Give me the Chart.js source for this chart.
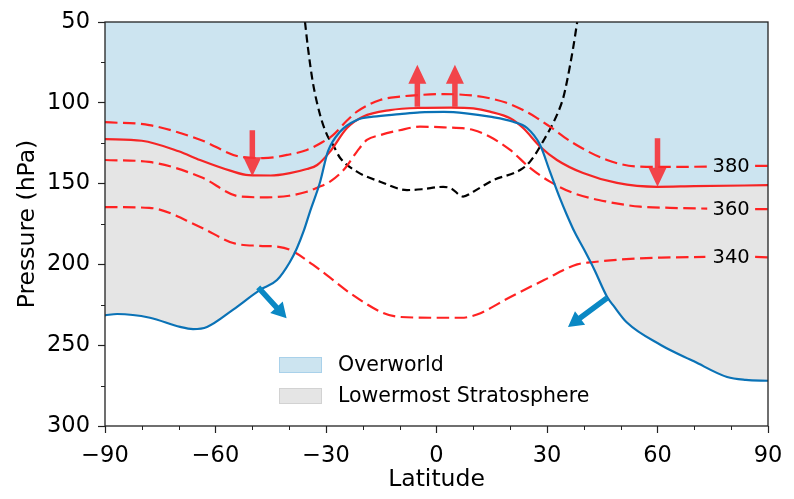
<!DOCTYPE html>
<html>
<head>
<meta charset="utf-8">
<script src="https://cdn.jsdelivr.net/npm/chart.js@4.4.1/dist/chart.umd.min.js"></script>
<style>
  html, body { margin: 0; padding: 0; background: #fff; }
  #chart { display: block; }
</style>
</head>
<body>
<canvas id="chart" width="794" height="499"></canvas>
<script>
// -- data: [latitude, pressure hPa] --------------------------------------
const xMajor = [-90, -60, -30, 0, 30, 60, 90];
const xMinor = [-80, -70, -50, -40, -20, -10, 10, 20, 40, 50, 70, 80];
const yMajor = [50, 100, 150, 200, 250, 300];
const yMinor = [75, 125, 175, 225, 275];

const tropopause = [
    [-90, 231.5], [-86.7, 230.7], [-77.8, 233], [-69.6, 238.7], [-66.1, 240], [-62.3, 238.7],
    [-55.2, 228], [-47.9, 215.8], [-43.3, 209.7], [-39.8, 198.5], [-37.9, 190], [-36, 179],
    [-34.3, 167], [-31.6, 149], [-29.5, 130.2], [-26.2, 117.9], [-21.6, 110.6], [-17.2, 108.6],
    [-10, 107], [-4.5, 105.9], [2, 105.6], [8, 106.5], [14.5, 108.6], [20.8, 111.7], [24.6, 115.6],
    [28.1, 126], [30.8, 142.6], [33.5, 159], [35.4, 169.4], [37.5, 180], [40.1, 191], [42.8, 203],
    [46.3, 220], [48.2, 226], [51.7, 236], [61, 250], [69.9, 260], [78.9, 269.7], [84, 271.5], [90, 272],
];

const overworldTop = [
    [-90, 122.5], [-80, 123.5], [-70, 130], [-64.2, 135.4], [-56, 142], [-51, 144.8], [-45, 145],
    [-39.8, 143.5], [-35.2, 141], [-32.4, 138.5], [-28.9, 130.2], [-24.3, 115.6], [-20, 108.6],
    [-12.6, 104.5], [-4.5, 103.2], [4, 103], [10, 103.5], [14.5, 105.5], [20, 109.6], [23.5, 115.6],
    [28.1, 127], [32.7, 135.4], [39.8, 143.5], [49, 149.6], [59.9, 152], [70, 151.6], [90, 151],
];

// isentropes, with a gap where the inline label sits
const theta380 = [
    [-90, 112], [-78, 113.8], [-64, 123], [-53.3, 133.4], [-47, 134.2], [-40, 132], [-35.2, 129.2],
    [-31.5, 125], [-28.1, 120], [-24.3, 111], [-21.6, 105.5], [-15.3, 98.3], [-10, 96.2], [-5, 95.2],
    [2, 94.6], [11, 95.8], [14.5, 97.2], [19, 100], [23.5, 104.5], [27, 109], [30.8, 114.8],
    [37.1, 124.9], [46.3, 135.4], [54.4, 139.4], [63.4, 139.7], [73.5, 139.5], [80, null], [86.5, 139], [90, 139],
];
const theta360 = [
    [-90, 135.4], [-78, 136.6], [-64, 145.9], [-53.3, 158], [-46, 158.5], [-40, 157.5], [-35.2, 155],
    [-32.4, 152.5], [-28.9, 148.8], [-25, 141], [-21.6, 130.2], [-18.9, 123], [-15.3, 120], [-10, 117],
    [-4.5, 114.8], [2, 115.2], [10, 116.8], [14.5, 121], [20, 129.2], [25.4, 140.3], [30.8, 148.8],
    [37.1, 155.8], [46.3, 161.2], [55.3, 164.3], [63.4, 165], [73.5, 165.5], [80, null], [86.5, 165.8], [90, 165.8],
];
const theta340 = [
    [-90, 164.5], [-78, 165], [-64.2, 176.8], [-55.2, 186.8], [-48, 188.5], [-43.3, 189], [-39.8, 191],
    [-31.6, 203.5], [-23.5, 217.7], [-14.5, 230], [-10, 232.5], [0, 233], [6.7, 233], [11, 231],
    [20.2, 220], [29.2, 209.7], [38.2, 200], [42.8, 198.5], [50, 197], [61, 195.8], [73, 195.4],
    [80, null], [86.5, 195.4], [90, 195.6],
];
const pvContour = [
    [-35.7, 50], [-34.9, 66], [-33.6, 87], [-31.6, 107.5], [-29.7, 120], [-28.1, 126], [-26.2, 134],
    [-21.6, 142.6], [-15.3, 148.8], [-8, 154], [-4, 153.5], [1.8, 152], [4, 153], [7.2, 158], [10, 155],
    [15.3, 148], [22.7, 141.6], [25.4, 136.4], [28.9, 124], [32.7, 107.5], [34.4, 97], [35.4, 87],
    [37.1, 66], [38.2, 50],
];

const isentropeLabels = ['380', '360', '340'];
const isentropeLabelLat = 80;
const isentropeLabelP = [139.3, 165.7, 195.4];

// arrows: [lat0, p0, lat1, p1]
const redArrows = [[-50, 117, -50, 145.5], [60, 122, 60, 152], [-5.2, 102.5, -5.2, 76.5], [5, 102.5, 5, 76.5]];
const blueArrows = [[-48.4, 214.2, -40.7, 233.4], [46.3, 220.8, 35.7, 238.7]];

const lmsCut = [-29.5, 28.1];

// -------------------------------------------------------------------------
const FONT = '"DejaVu Sans", sans-serif';
const pts = (rows) => rows.map(([x, y]) => ({ x, y }));
const lms = [
    ...tropopause.filter(([x]) => x <= lmsCut[0]),
    [0, null],
    ...tropopause.filter(([x]) => x >= lmsCut[1]),
];
const minus = (v) => (v < 0 ? '\u2212' + Math.abs(v) : String(v));

function line(data, color, width, dash) {
    return {
        data: pts(data), borderColor: color, borderWidth: width, borderDash: dash,
        pointRadius: 0, fill: false, cubicInterpolationMode: 'monotone', order: 1,
    };
}

function arrow(ctx, x0, y0, x1, y1, shaft, headW, headL, color) {
    const len = Math.hypot(x1 - x0, y1 - y0);
    const ux = (x1 - x0) / len, uy = (y1 - y0) / len;
    const nx = -uy, ny = ux;
    const bx = x1 - ux * headL, by = y1 - uy * headL;
    ctx.beginPath();
    ctx.moveTo(x0 + nx * shaft / 2, y0 + ny * shaft / 2);
    ctx.lineTo(bx + nx * shaft / 2, by + ny * shaft / 2);
    ctx.lineTo(bx + nx * headW / 2, by + ny * headW / 2);
    ctx.lineTo(x1, y1);
    ctx.lineTo(bx - nx * headW / 2, by - ny * headW / 2);
    ctx.lineTo(bx - nx * shaft / 2, by - ny * shaft / 2);
    ctx.lineTo(x0 - nx * shaft / 2, y0 - ny * shaft / 2);
    ctx.closePath();
    ctx.fillStyle = color;
    ctx.fill();
}

const decorations = {
    id: 'decorations',
    afterDatasetsDraw(chart) {
        const { ctx, scales: { x, y } } = chart;
        ctx.save();
        redArrows.forEach(([a, b, c, d]) => arrow(ctx, x.getPixelForValue(a), y.getPixelForValue(b),
            x.getPixelForValue(c), y.getPixelForValue(d), 5.5, 18, 19, 'rgba(246,50,55,0.9)'));
        blueArrows.forEach(([a, b, c, d]) => arrow(ctx, x.getPixelForValue(a), y.getPixelForValue(b),
            x.getPixelForValue(c), y.getPixelForValue(d), 5.5, 17, 15, '#0a88c4'));

        ctx.fillStyle = '#000';
        ctx.font = '19.5px ' + FONT;
        ctx.textAlign = 'center';
        ctx.textBaseline = 'middle';
        isentropeLabels.forEach((t, i) =>
            ctx.fillText(t, x.getPixelForValue(isentropeLabelLat), y.getPixelForValue(isentropeLabelP[i]) + 1));
        ctx.restore();
    },
    afterDraw(chart) {
        const { ctx, chartArea: a, scales: { x, y } } = chart;
        ctx.save();
        // minor ticks
        ctx.strokeStyle = '#222';
        ctx.lineWidth = 1;
        ctx.beginPath();
        xMinor.forEach((v) => {
            const px = Math.round(x.getPixelForValue(v)) + 0.5;
            ctx.moveTo(px, a.bottom); ctx.lineTo(px, a.bottom + 4);
        });
        yMinor.forEach((v) => {
            const py = Math.round(y.getPixelForValue(v)) + 0.5;
            ctx.moveTo(a.left, py); ctx.lineTo(a.left - 4, py);
        });
        ctx.stroke();
        // spines
        ctx.lineWidth = 1.3;
        ctx.strokeRect(a.left, a.top, a.right - a.left, a.bottom - a.top);

        // legend
        const lx = a.left + 174, ly = a.top + 335;
        [0, 1].forEach((i, k) => {
            const ds = chart.data.datasets[i];
            const top = ly + k * 31;
            ctx.fillStyle = ds.backgroundColor;
            ctx.fillRect(lx, top, 43, 16);
            ctx.strokeStyle = ds.edgeColor;
            ctx.lineWidth = 1;
            ctx.strokeRect(lx + 0.5, top + 0.5, 42, 15);
            ctx.fillStyle = '#000';
            ctx.font = '20.5px ' + FONT;
            ctx.textAlign = 'left';
            ctx.textBaseline = 'middle';
            ctx.fillText(ds.label, lx + 59, top + 8.5);
        });
        ctx.restore();
    },
};

new Chart(document.getElementById('chart'), {
    type: 'line',
    data: {
        datasets: [
            {
                label: 'Overworld', data: pts(overworldTop), borderWidth: 0, pointRadius: 0,
                cubicInterpolationMode: 'monotone', fill: 'end', backgroundColor: '#cce4f0', edgeColor: '#a9d1ea', order: 10,
            },
            {
                label: 'Lowermost Stratosphere', data: pts(lms), borderWidth: 0, pointRadius: 0,
                cubicInterpolationMode: 'monotone', fill: 0, backgroundColor: '#e5e5e5', edgeColor: '#d2d2d2', order: 9,
            },
            line(tropopause, '#0a72b6', 2.2, []),
            line(overworldTop, '#f52525', 2.2, []),
            line(theta380, '#ff2222', 2.2, [12.5, 5.5]),
            line(theta360, '#ff2222', 2.2, [12.5, 5.5]),
            line(theta340, '#ff2222', 2.2, [12.5, 5.5]),
            line(pvContour, '#000', 2.2, [8, 4.5]),
        ],
    },
    options: {
        responsive: false,
        animation: false,
        events: [],
        layout: { padding: { top: 22, right: 26, left: 0, bottom: 0 } },
        plugins: { legend: { display: false }, tooltip: { enabled: false } },
        scales: {
            x: {
                type: 'linear', min: -90, max: 90,
                afterBuildTicks: (s) => { s.ticks = xMajor.map((value) => ({ value })); },
                afterFit: (s) => { s.height = 73; },
                ticks: { callback: minus, color: '#000', font: { family: FONT, size: 22.5 }, padding: 10, maxRotation: 0 },
                grid: { drawOnChartArea: false, drawTicks: true, tickLength: 7, tickColor: '#222', tickWidth: 1.2 },
                border: { display: false },
                title: { display: true, text: 'Latitude', color: '#000', font: { family: FONT, size: 23.5 }, padding: { top: 0, bottom: 5 } },
            },
            y: {
                type: 'linear', min: 50, max: 300, reverse: true,
                afterBuildTicks: (s) => { s.ticks = yMajor.map((value) => ({ value })); },
                afterFit: (s) => { s.width = 105; },
                ticks: { color: '#000', font: { family: FONT, size: 22.5 }, padding: 8 },
                grid: { drawOnChartArea: false, drawTicks: true, tickLength: 7, tickColor: '#222', tickWidth: 1.2 },
                border: { display: false },
                title: { display: true, text: 'Pressure (hPa)', color: '#000', font: { family: FONT, size: 23.5 }, padding: { top: 14, bottom: 0 } },
            },
        },
    },
    plugins: [decorations],
});
</script>
</body>
</html>
